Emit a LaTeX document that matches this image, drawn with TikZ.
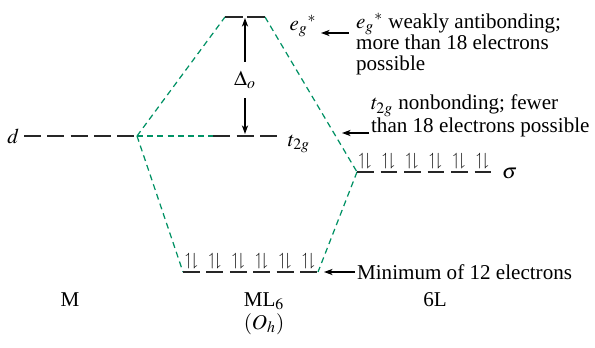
\documentclass[tikz,border=0pt]{standalone}
\usepackage{amssymb}
\usepackage{mathptmx}
\usepackage{fontspec}
\setmainfont{Liberation Serif}
\usetikzlibrary{arrows.meta}
\definecolor{corrgreen}{RGB}{0,145,100}
\tikzset{
  level/.style={line width=1.1pt, black!85},
  corr/.style={draw=corrgreen, line width=0.7pt, dash pattern=on 3.4pt off 2.4pt},
  pointer/.style={-{Stealth[length=5pt,width=3.6pt]}, line width=0.6pt},
  note/.style={align=left, font=\fontsize{12}{12}\selectfont, inner sep=1pt},
  lbl/.style={font=\fontsize{12}{12}\selectfont, inner sep=1pt},
  pair/.style={font=\fontsize{10}{10}\selectfont, inner sep=0pt}
}
\newcommand{\elpair}{$\upharpoonleft\!\downharpoonright$}
\begin{document}
\begin{tikzpicture}[x=0.02cm, y=-0.02cm]
    \useasboundingbox (0,0) rectangle (595,348);

    % Level end points
    \coordinate (dR) at (137,136);
    \coordinate (egL) at (225,17);
    \coordinate (egR) at (265,17);
    \coordinate (tL) at (213,136);
    \coordinate (sL) at (357,172);
    \coordinate (bL) at (183,272);
    \coordinate (bR) at (318,272);

    % Correlation lines
    \draw[corr] (dR) -- (egL);
    \draw[corr] (dR) -- (tL);
    \draw[corr] (dR) -- (bL);
    \draw[corr] (egR) -- (sL);
    \draw[corr] (sL) -- (bR);

    % Metal d levels
    \foreach \i in {0,...,4}
        \draw[level] (24+23.25*\i,136) -- ++(17,0);
    \node[lbl, anchor=east] (dlbl) at (21,136) {$d$};

    % ML6 levels
    \foreach \i in {0,1}
        \draw[level] (225+22*\i,17) -- ++(18,0);
    \foreach \i in {0,1,2}
        \draw[level] (213+23.5*\i,136) -- ++(17,0);
    \foreach \i in {0,...,5} {
        \draw[level] (183+23.4*\i,272) -- ++(17,0);
        \node[pair] at (191.5+23.4*\i,261) {\elpair};
    }

    % Ligand sigma levels
    \foreach \i in {0,...,5} {
        \draw[level] (357+23.5*\i,172) -- ++(16.5,0);
        \node[pair] at (365+23.5*\i,161) {\elpair};
    }
    \node[lbl, anchor=west] (siglbl) at (500,174) {$\sigma$};

    % Splitting
    \coordinate (egmid) at (245,18);
    \coordinate (tmid) at (245,134);
    \node[lbl, inner ysep=5pt] (delta) at (245,80) {$\Delta_o$};
    \draw[pointer] (delta) -- (egmid);
    \draw[pointer] (delta) -- (tmid);

    \node[lbl] (eglbl) at (303,26) {$e_g{}^*$};
    \node[lbl] (tlbl) at (299,144) {$t_{2g}$};

    % Notes
    \node[note, anchor=north west] (egtext) at (354,11)
        {$e_g{}^*$ weakly antibonding;\\more than 18 electrons\\possible};
    \coordinate (egtip) at (321,33);
    \draw[pointer, shorten <=3pt] (egtext.west |- egtip) -- (egtip);

    \node[note, anchor=north west] (ttext) at (369,93)
        {$t_{2g}$ nonbonding; fewer\\than 18 electrons possible};
    \coordinate (ttip) at (342,133);
    \draw[pointer] (ttext.west |- ttip) -- (ttip);

    \node[note, anchor=west] (mintext) at (355,272) {Minimum of 12 electrons};
    \coordinate (mintip) at (324,272);
    \draw[pointer] (mintext) -- (mintip);

    % Column labels
    \node[lbl] (mlbl) at (70,300) {M};
    \node[lbl] (mllbl) at (264,301) {ML$_6$};
    \node[lbl] (ohlbl) at (264,324) {$(O_h)$};
    \node[lbl] (llbl) at (435,300) {6L};
\end{tikzpicture}
\end{document}
